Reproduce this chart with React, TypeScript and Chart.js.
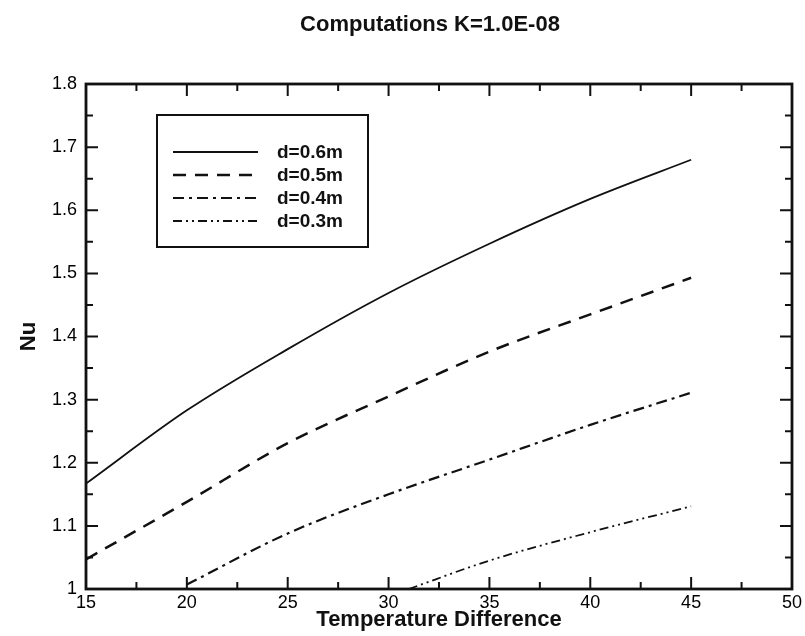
import React, { useEffect, useRef } from "react";
import { Chart, registerables } from "chart.js";

Chart.register(...registerables);

// ---- text ----
const TITLE = "Computations K=1.0E-08";
const X_TITLE = "Temperature Difference";
const Y_TITLE = "Nu";

// ---- axes ----
const X_MIN = 15;
const X_MAX = 50;
const X_STEP = 5;
const Y_MIN = 1;
const Y_MAX = 1.8;
const Y_STEP = 0.1;

// ---- series ----
const LABELS = ["d=0.6m", "d=0.5m", "d=0.4m", "d=0.3m"];

const d06X = [15, 20, 25, 30, 35, 40, 45];
const d06Y = [1.167, 1.283, 1.38, 1.469, 1.547, 1.618, 1.68];

const d05X = [15, 20, 25, 30, 35, 40, 45];
const d05Y = [1.047, 1.138, 1.231, 1.305, 1.376, 1.435, 1.493];

const d04X = [20, 25, 30, 35, 40, 45];
const d04Y = [1.007, 1.088, 1.15, 1.205, 1.26, 1.311];

const d03X = [31, 35, 40, 45];
const d03Y = [1.0, 1.045, 1.09, 1.131];

const INK = "#111";
const FONT = "'Liberation Sans', Arial, sans-serif";

const pts = (xs: number[], ys: number[]) => xs.map((x, i) => ({ x, y: ys[i] }));

const framePlugin = {
  id: "frameTicksLegend",
  afterDraw(chart: any) {
    const { ctx, chartArea } = chart;
    const xs = chart.scales.x;
    const ys = chart.scales.y;
    const { left, right, top, bottom } = chartArea;
    ctx.save();
    ctx.strokeStyle = INK;
    ctx.fillStyle = INK;

    // ticks (inward on all four sides)
    ctx.lineWidth = 2;
    ctx.setLineDash([]);
    const nX = Math.round((X_MAX - X_MIN) / (X_STEP / 2));
    for (let i = 0; i <= nX; i++) {
      const v = X_MIN + (i * X_STEP) / 2;
      const px = xs.getPixelForValue(v);
      const len = i % 2 === 0 ? 12 : 7;
      ctx.beginPath();
      ctx.moveTo(px, bottom);
      ctx.lineTo(px, bottom - len);
      ctx.moveTo(px, top);
      ctx.lineTo(px, top + len);
      ctx.stroke();
    }
    const nY = Math.round((Y_MAX - Y_MIN) / (Y_STEP / 2));
    for (let i = 0; i <= nY; i++) {
      const v = Y_MIN + (i * Y_STEP) / 2;
      const py = ys.getPixelForValue(v);
      const len = i % 2 === 0 ? 12 : 7;
      ctx.beginPath();
      ctx.moveTo(left, py);
      ctx.lineTo(left + len, py);
      ctx.moveTo(right, py);
      ctx.lineTo(right - len, py);
      ctx.stroke();
    }

    // frame
    ctx.lineWidth = 2.8;
    ctx.strokeRect(left, top, right - left, bottom - top);

    // legend
    const lx = left + 71;
    const ly = top + 31;
    const lw = 211;
    const lh = 132;
    ctx.lineWidth = 2;
    ctx.strokeRect(lx, ly, lw, lh);
    chart.data.datasets.forEach((ds: any, i: number) => {
      const y = ly + 37 + i * 23;
      ctx.save();
      ctx.lineWidth = ds.borderWidth;
      ctx.setLineDash(ds.borderDash || []);
      ctx.beginPath();
      ctx.moveTo(lx + 16, y);
      ctx.lineTo(lx + 101, y);
      ctx.stroke();
      ctx.restore();
      ctx.font = "bold 19px " + FONT;
      ctx.textBaseline = "middle";
      ctx.textAlign = "left";
      ctx.fillText(ds.label, lx + 120, y + 1);
    });

    // title
    ctx.font = "bold 22px " + FONT;
    ctx.textAlign = "center";
    ctx.textBaseline = "middle";
    ctx.fillText(TITLE, 430, 25);
    ctx.restore();
  },
};

export default function App() {
  const ref = useRef<HTMLCanvasElement | null>(null);
  useEffect(() => {
    document.body.style.margin = "0";
    const canvas = ref.current;
    if (!canvas) return;
    const common = {
      fill: false,
      pointRadius: 0,
      borderColor: INK,
      backgroundColor: INK,
      cubicInterpolationMode: "monotone" as const,
    };
    const chart = new Chart(canvas, {
      type: "line",
      data: {
        datasets: [
          { ...common, label: LABELS[0], data: pts(d06X, d06Y), borderWidth: 1.8, borderDash: [] },
          { ...common, label: LABELS[1], data: pts(d05X, d05Y), borderWidth: 2.5, borderDash: [13, 9] },
          { ...common, label: LABELS[2], data: pts(d04X, d04Y), borderWidth: 2.2, borderDash: [11, 5, 3, 5] },
          { ...common, label: LABELS[3], data: pts(d03X, d03Y), borderWidth: 1.8, borderDash: [9, 4, 2, 4, 2, 4] },
        ],
      },
      options: {
        animation: false,
        responsive: true,
        maintainAspectRatio: false,
        parsing: false as any,
        layout: { padding: { top: 84, right: 12, bottom: 0, left: 0 } },
        plugins: {
          legend: { display: false },
          title: { display: false },
          tooltip: { enabled: false },
        },
        scales: {
          x: {
            type: "linear",
            min: X_MIN,
            max: X_MAX,
            grid: { display: false, drawTicks: false },
            border: { display: false },
            ticks: {
              stepSize: X_STEP,
              padding: 3,
              color: "#000",
              font: { family: FONT, size: 18 },
              maxRotation: 0,
              callback: (v: any) => String(v),
            },
            title: {
              display: true,
              text: X_TITLE,
              color: INK,
              font: { family: FONT, size: 22, weight: "bold" },
              padding: { top: 0, bottom: 3 },
            },
            afterFit: (s: any) => {
              s.height = 47;
            },
          },
          y: {
            type: "linear",
            min: Y_MIN,
            max: Y_MAX,
            grid: { display: false, drawTicks: false },
            border: { display: false },
            ticks: {
              stepSize: Y_STEP,
              padding: 9,
              color: "#000",
              font: { family: FONT, size: 18 },
              callback: (v: any) => (Math.abs(v - 1) < 1e-9 ? "1" : Number(v).toFixed(1)),
            },
            title: {
              display: true,
              text: Y_TITLE,
              color: INK,
              font: { family: FONT, size: 22, weight: "bold" },
              padding: { top: 16, bottom: 0 },
            },
            afterFit: (s: any) => {
              s.width = 86;
            },
          },
        },
      },
      plugins: [framePlugin],
    });
    return () => chart.destroy();
  }, []);
  return (
    <div style={{ position: "fixed", left: 0, top: 0, width: 805, height: 636, background: "#fff" }}>
      <canvas ref={ref} />
    </div>
  );
}
